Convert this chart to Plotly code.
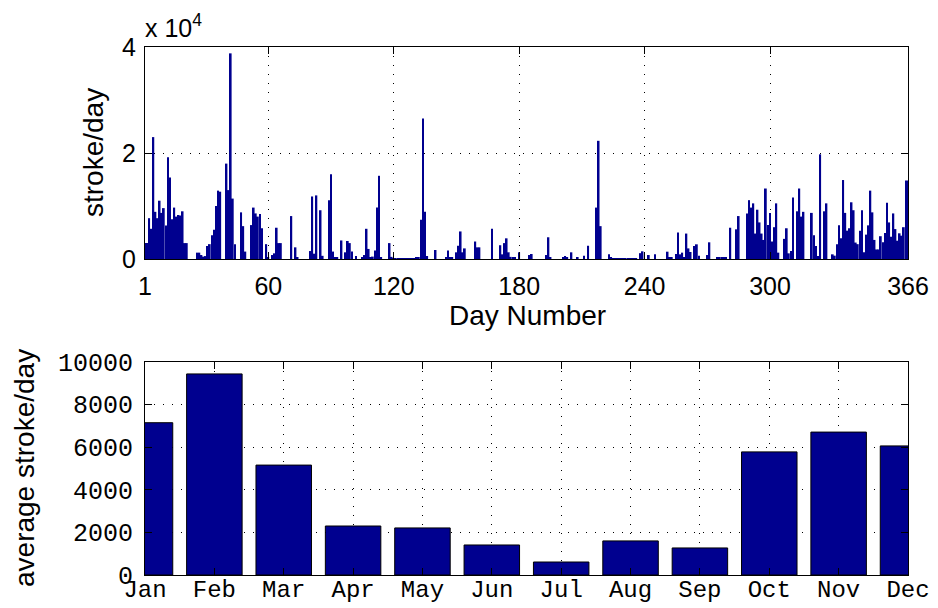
import plotly.graph_objects as go

# ---------------- data ----------------
daily_strokes = [
    3000, 3000, 7700, 5700, 23000, 8900, 7700, 11000, 8700, 9600,
    6300, 19200, 15400, 7500, 9700, 8000, 8300, 8200, 9000, 3000,
    3000, 0, 0, 0, 0, 1200, 1200, 750, 450, 550,
    2450, 2800, 4500, 5500, 10000, 12900, 12700, 0, 0, 18000,
    13000, 38800, 11400, 2800, 0, 0, 8800, 6200, 1400, 0,
    0, 6400, 9700, 8600, 8000, 8500, 5800, 0, 2800, 300,
    0, 750, 1070, 5900, 3000, 3000, 0, 0, 0, 0,
    8100, 0, 2200, 300, 0, 0, 0, 0, 0, 1500,
    11800, 1000, 12000, 0, 9200, 600, 0, 0, 11100, 16000,
    1400, 300, 300, 0, 3500, 0, 1260, 3400, 3000, 1400,
    0, 570, 0, 0, 200, 750, 5700, 1900, 200, 450,
    1600, 9700, 15700, 200, 0, 0, 0, 3000, 400, 100,
    100, 100, 100, 100, 100, 100, 100, 100, 100, 100,
    300, 300, 7400, 26500, 8900, 570, 0, 0, 0, 1700,
    0, 0, 0, 0, 300, 1600, 300, 300, 0, 1260,
    2500, 5200, 1260, 2000, 0, 0, 0, 0, 3300, 2200,
    2200, 0, 0, 0, 0, 0, 5700, 0, 0, 0,
    2600, 880, 3000, 3900, 1260, 400, 300, 400, 0, 1260,
    0, 0, 0, 0, 750, 940, 0, 0, 0, 0,
    0, 0, 750, 4100, 200, 0, 0, 0, 0, 0,
    300, 570, 300, 0, 1260, 0, 0, 300, 0, 0,
    630, 0, 2500, 0, 0, 0, 9700, 22300, 6200, 0,
    0, 0, 880, 300, 100, 100, 100, 100, 100, 100,
    100, 100, 100, 100, 100, 100, 0, 1100, 1450, 0,
    0, 750, 0, 0, 880, 0, 0, 0, 0, 0,
    1380, 300, 300, 0, 940, 5000, 880, 1200, 300, 4800,
    2000, 1320, 0, 2450, 2770, 600, 0, 0, 0, 750,
    3150, 0, 0, 0, 200, 200, 200, 200, 200, 0,
    5900, 0, 0, 5600, 8100, 0, 0, 0, 8600, 11100,
    9700, 10500, 4800, 9300, 6900, 4800, 3600, 13300, 6400, 8700,
    3300, 6000, 10500, 1200, 0, 0, 3800, 5800, 1070, 1500,
    11600, 0, 9000, 13300, 8000, 8900, 0, 0, 0, 8700,
    4500, 2450, 570, 19750, 0, 9000, 10500, 0, 0, 880,
    630, 2800, 6350, 3900, 14900, 8700, 5350, 5800, 10700, 9200,
    3100, 2800, 5350, 9200, 1260, 4600, 6350, 12900, 8800, 3600,
    1800, 1800, 4300, 3150, 4900, 10600, 6900, 4200, 8600, 5650,
    3450, 4850, 4400, 6000, 14800, 14800,
]
days = list(range(1, len(daily_strokes) + 1))

day_ticks = [1, 60, 120, 180, 240, 300, 366]
stroke_tickvals = [0, 20000, 40000]
stroke_ticktext = ["0", "2", "4"]

months = ["Jan", "Feb", "Mar", "Apr", "May", "Jun",
          "Jul", "Aug", "Sep", "Oct", "Nov", "Dec"]
month_avg = [7150, 9440, 5160, 2300, 2210, 1410,
             610, 1600, 1270, 5780, 6710, 6060]
month_pos = list(range(1, 13))
avg_ticks = [0, 2000, 4000, 6000, 8000, 10000]

# ---------------- style ----------------
W, H = 938, 608
BAR = "#00008F"
SANS = "Liberation Sans, Arial, Helvetica, sans-serif"
MONO = "Liberation Mono, Courier New, monospace"

def px_x(a, b):
    return [a / W, b / W]

def px_y(top, bottom):
    return [(H - bottom) / H, (H - top) / H]

fig = go.Figure()
fig.add_trace(go.Bar(x=days, y=daily_strokes, width=0.85,
                     marker=dict(color=BAR, line=dict(width=0)),
                     xaxis="x", yaxis="y", showlegend=False))
fig.add_trace(go.Bar(x=month_pos, y=month_avg, width=0.8,
                     marker=dict(color=BAR, line=dict(color="black", width=1)),
                     xaxis="x2", yaxis="y2", showlegend=False))

axis_common = dict(showline=True, linecolor="black", linewidth=1,
                   mirror="ticks", ticks="inside", ticklen=7,
                   tickcolor="black", showgrid=True, gridcolor="black",
                   gridwidth=1, griddash="1px,8px", zeroline=False,
                   automargin=False)

fig.update_layout(
    width=W, height=H, autosize=False,
    margin=dict(l=0, r=0, t=0, b=0, pad=0),
    paper_bgcolor="white", plot_bgcolor="white",
    xaxis=dict(domain=px_x(145, 908), anchor="y", range=[1, 366],
               tickvals=day_ticks, ticktext=[str(t) for t in day_ticks],
               tickfont=dict(family=SANS, size=25, color="black"),
               ticklabelstandoff=5, **axis_common),
    yaxis=dict(domain=px_y(47, 259), anchor="x", range=[0, 40000],
               tickvals=stroke_tickvals, ticktext=stroke_ticktext,
               tickfont=dict(family=SANS, size=25, color="black"),
               ticklabelstandoff=3, **axis_common),
    xaxis2=dict(domain=px_x(145, 908), anchor="y2", range=[1, 12],
                tickvals=month_pos, ticktext=months,
                tickfont=dict(family=MONO, size=24, color="black"),
                ticklabelstandoff=-8, **axis_common),
    yaxis2=dict(domain=px_y(362, 575), anchor="x2", range=[0, 10000],
                tickvals=avg_ticks, ticktext=[str(t) for t in avg_ticks],
                tickfont=dict(family=MONO, size=25, color="black"),
                ticklabelstandoff=6, **axis_common),
    annotations=[
        dict(text="x 10<sup>4</sup>", x=143 / W, y=(H - 26) / H,
             xref="paper", yref="paper", xanchor="left", yanchor="middle",
             showarrow=False, font=dict(family=SANS, size=25, color="black")),
        dict(text="stroke/day", x=93 / W, y=(H - 153) / H,
             xref="paper", yref="paper", xanchor="center", yanchor="middle",
             textangle=-90, showarrow=False,
             font=dict(family=SANS, size=28, color="black")),
        dict(text="Day Number", x=527 / W, y=(H - 315) / H,
             xref="paper", yref="paper", xanchor="center", yanchor="middle",
             showarrow=False, font=dict(family=SANS, size=28, color="black")),
        dict(text="average stroke/day", x=24 / W, y=(H - 468) / H,
             xref="paper", yref="paper", xanchor="center", yanchor="middle",
             textangle=-90, showarrow=False,
             font=dict(family=SANS, size=28, color="black")),
    ],
)

fig.write_html("out.html")
